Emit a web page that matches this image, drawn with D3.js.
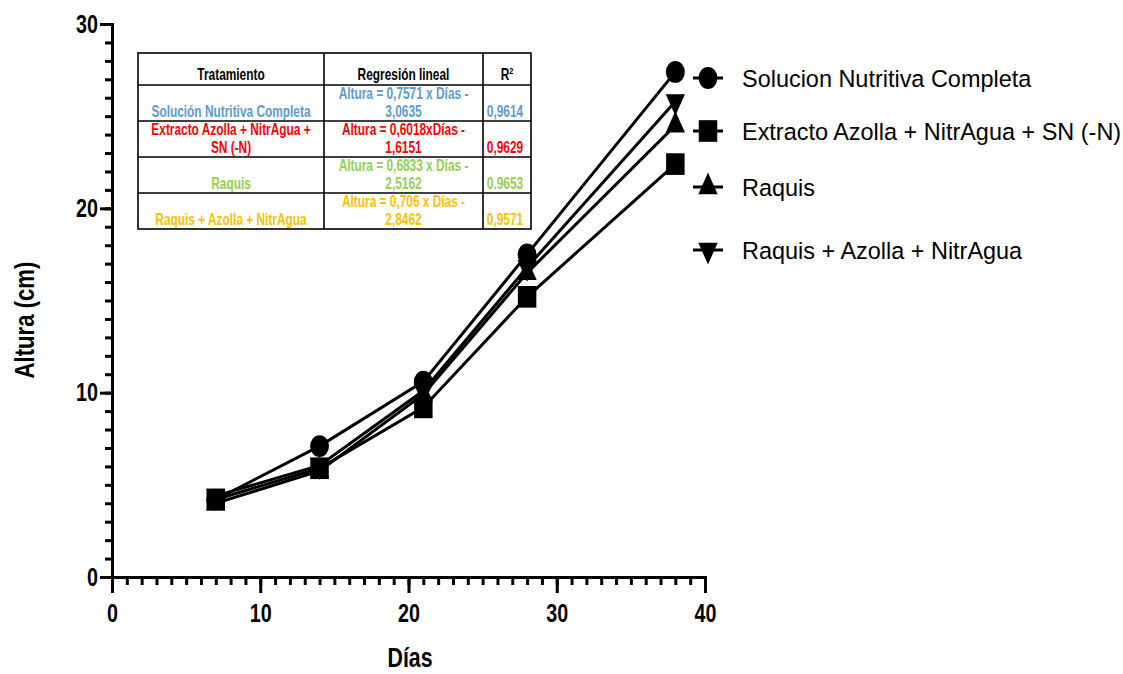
<!DOCTYPE html>
<html>
<head>
<meta charset="utf-8">
<script src="https://cdn.jsdelivr.net/npm/d3@7"></script>
<style>
  body { margin: 0; background: #fff; }
  text { font-family: "Liberation Sans", Arial, sans-serif; }
</style>
</head>
<body>
<div id="chart"></div>
<script>
// datos
var dias = [7, 14, 21, 28, 38];
var solucionCompleta = [4.2, 7.1, 10.6, 17.5, 27.4];
var extractoAzolla = [4.2, 5.9, 9.2, 15.2, 22.4];
var raquis = [4.0, 5.75, 9.9, 16.5, 24.5];
var raquisAzolla = [4.4, 6.05, 10.1, 16.8, 25.8];

var nombresSerie = ["Solucion Nutritiva Completa", "Extracto Azolla + NitrAgua + SN (-N)", "Raquis", "Raquis + Azolla + NitrAgua"];
var marcadores = ["circle", "square", "up", "down"];

var xTicks = [0, 10, 20, 30, 40];
var yTicks = [0, 10, 20, 30];

// tabla de regresiones
var tratamientos = [["Solución Nutritiva Completa"], ["Extracto Azolla + NitrAgua +", "SN (-N)"], ["Raquis"], ["Raquis + Azolla + NitrAgua"]];
var regresiones = [["Altura = 0,7571 x Días -", "3,0635"], ["Altura = 0,6018xDías -", "1,6151"], ["Altura = 0,6833 x Días -", "2,5162"], ["Altura = 0,706 x Días -", "2,8462"]];
var r2 = ["0,9614", "0,9629", "0.9653", "0,9571"];
var coloresTabla = ["#5B9BD5", "#FF0000", "#92D050", "#FFC000"];

var svgWidth = 1123;
var svgHeight = 674;
var NARROW = 0.82;

var svg = d3.select("#chart")
  .append("svg")
  .attr("width", svgWidth)
  .attr("height", svgHeight);

var xScale = d3.scaleLinear().domain([0, 40]).range([112, 705]);
var yScale = d3.scaleLinear().domain([0, 30]).range([577, 24]);

// texto estrecho (tipo Arial Narrow)
function narrowText(g, x, y, size, weight, anchor, str, color, sy) {
  return g.append("text")
    .attr("transform", `translate(${x},${y}) scale(${NARROW},${sy || 1})`)
    .attr("text-anchor", anchor)
    .style("font-size", size + "px")
    .style("font-weight", weight)
    .style("fill", color || "#000")
    .text(str);
}

// ejes
var xMinor = d3.axisBottom(xScale).tickValues(d3.range(0, 41, 1)).tickSize(8).tickSizeOuter(0).tickFormat("");
var xMajor = d3.axisBottom(xScale).tickValues(xTicks).tickSize(16).tickSizeOuter(0).tickPadding(9);
var yMinor = d3.axisLeft(yScale).tickValues(d3.range(0, 31, 1)).tickSize(7).tickSizeOuter(0).tickFormat("");
var yMajor = d3.axisLeft(yScale).tickValues(yTicks).tickSize(12).tickSizeOuter(0);

var axisG = svg.append("g").attr("class", "axes");
[ [xMinor, "x"], [xMajor, "x"], [yMinor, "y"], [yMajor, "y"] ].forEach(function (a) {
  var g = axisG.append("g")
    .attr("transform", a[1] == "x" ? `translate(0,577)` : `translate(112,0)`)
    .call(a[0]);
  g.selectAll("path, line").attr("stroke", "#000").attr("stroke-width", 3);
  g.select(".domain").attr("stroke-linecap", "square");
  g.selectAll("text")
    .style("font-size", "24px")
    .style("font-weight", "bold")
    .attr("fill", "#000");
  if (a[1] == "x") {
    g.selectAll("text").attr("transform", `scale(${NARROW},1.08)`);
  } else {
    g.selectAll("text").attr("transform", `scale(${NARROW},1.08)`).attr("x", -14 / NARROW);
  }
});

// titulos de ejes
svg.append("text")
  .attr("transform", `translate(34,320) rotate(-90) scale(${NARROW},1)`)
  .attr("text-anchor", "middle")
  .style("font-size", "27px")
  .style("font-weight", "bold")
  .text("Altura (cm)");

narrowText(svg, 410, 667, 26, "bold", "middle", "Días", "#000", 1.05);

// series
var series = [solucionCompleta, extractoAzolla, raquis, raquisAzolla];

function symbolPath(tipo) {
  if (tipo == "circle") return d3.symbol().type(d3.symbolCircle).size(283)();
  if (tipo == "square") return d3.symbol().type(d3.symbolSquare).size(342)();
  return d3.symbol().type(d3.symbolTriangle).size(160)();
}
function symbolTransform(tipo, x, y) {
  if (tipo == "circle") return `translate(${x},${y}) scale(1,1.15)`;
  if (tipo == "square") return `translate(${x},${y}) scale(1,1.17)`;
  if (tipo == "up") return `translate(${x},${y}) scale(1,1.3)`;
  return `translate(${x},${y}) scale(1,1.3) rotate(180)`;
}

var line = d3.line()
  .x(function (d, i) { return xScale(dias[i]); })
  .y(function (d) { return yScale(d); });

var linesG = svg.append("g");
series.forEach(function (s) {
  linesG.append("path")
    .datum(s)
    .attr("d", line)
    .attr("fill", "none")
    .attr("stroke", "#000")
    .attr("stroke-width", 3);
});

// cuadrados al final (quedan encima)
var orden = [0, 2, 3, 1];
var markG = svg.append("g");
orden.forEach(function (k) {
  markG.selectAll(null)
    .data(series[k])
    .enter()
    .append("path")
    .attr("d", symbolPath(marcadores[k]))
    .attr("transform", function (d, i) { return symbolTransform(marcadores[k], xScale(dias[i]), yScale(d)); })
    .attr("fill", "#000");
});

// leyenda
var legendY = [78, 131, 187, 250];
var legend = svg.append("g");
nombresSerie.forEach(function (n, i) {
  legend.append("line")
    .attr("x1", 693).attr("x2", 723)
    .attr("y1", legendY[i]).attr("y2", legendY[i])
    .attr("stroke", "#000").attr("stroke-width", 3);
  legend.append("path")
    .attr("d", symbolPath(marcadores[i]))
    .attr("transform", symbolTransform(marcadores[i], 708, legendY[i]))
    .attr("fill", "#000");
  legend.append("text")
    .attr("transform", `translate(742,${legendY[i] + 9}) scale(1.02,1.06)`)
    .style("font-size", "23px")
    .text(n);
});

// tabla
var colX = [138, 324, 483, 531];
var rowY = [53, 85, 121, 157, 193, 229];
var tabla = svg.append("g");

tabla.append("rect")
  .attr("x", colX[0]).attr("y", rowY[0])
  .attr("width", colX[3] - colX[0]).attr("height", rowY[5] - rowY[0])
  .attr("fill", "#fff").attr("stroke", "#000").attr("stroke-width", 1.6);
colX.slice(1, 3).forEach(function (cx) {
  tabla.append("line")
    .attr("x1", cx).attr("x2", cx).attr("y1", rowY[0]).attr("y2", rowY[5])
    .attr("stroke", "#000").attr("stroke-width", 1.6);
});
rowY.slice(1, 5).forEach(function (ry) {
  tabla.append("line")
    .attr("x1", colX[0]).attr("x2", colX[3]).attr("y1", ry).attr("y2", ry)
    .attr("stroke", "#000").attr("stroke-width", 1.6);
});

var c1 = (colX[0] + colX[1]) / 2, c2 = (colX[1] + colX[2]) / 2, c3 = 505;
narrowText(tabla, c1, rowY[1] - 5, 14.5, "bold", "middle", "Tratamiento", "#000", 1.08);
narrowText(tabla, c2, rowY[1] - 5, 14.5, "bold", "middle", "Regresión lineal", "#000", 1.08);
var r2h = narrowText(tabla, 507, rowY[1] - 5, 14.5, "bold", "middle", "R", "#000", 1.08);
r2h.append("tspan").attr("dy", -6).style("font-size", "9px").text("2");

tratamientos.forEach(function (t, i) {
  var bottom = rowY[i + 2];
  var col = coloresTabla[i];
  t.forEach(function (str, j) {
    var yy = bottom - 4.5 - (t.length - 1 - j) * 17.5;
    narrowText(tabla, c1, yy, 14.5, "bold", "middle", str, col, 1.08);
  });
  regresiones[i].forEach(function (str, j) {
    var yy = bottom - 4.5 - (1 - j) * 17.5;
    narrowText(tabla, c2, yy, 14.5, "bold", "middle", str, col, 1.08);
  });
  narrowText(tabla, c3, bottom - 4.5, 14.5, "bold", "middle", r2[i], col, 1.08);
});
</script>
</body>
</html>
